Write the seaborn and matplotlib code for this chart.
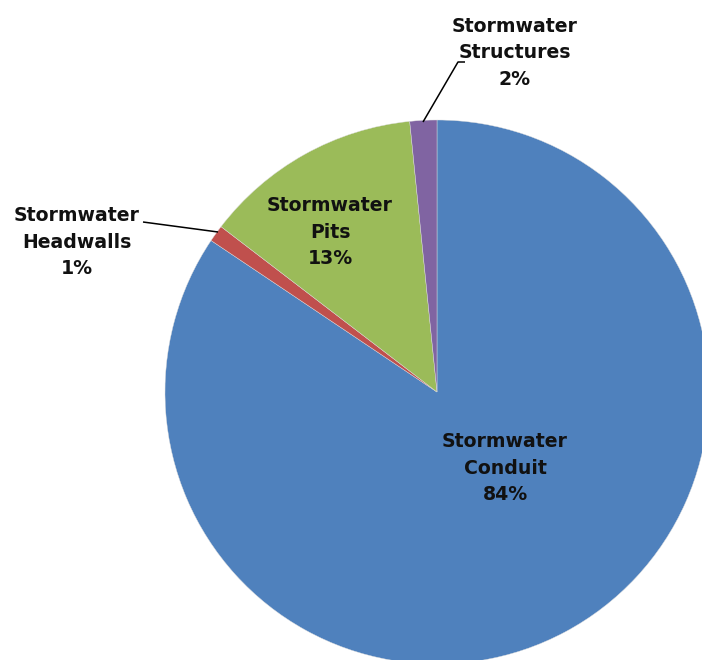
import matplotlib
matplotlib.use("Agg")
import matplotlib.pyplot as plt
import seaborn as sns

# data
categories = ["Stormwater\nConduit", "Stormwater\nHeadwalls", "Stormwater\nPits", "Stormwater\nStructures"]
shares = [84.4, 1.0, 13.0, 1.6]
colors = ["#4F81BD", "#C0504D", "#9BBB59", "#8064A2"]

# label layout in pixel coords (origin bottom-left), leader lines where needed
label_pos = [(505, 192), (77, 418), (330, 428), (515, 607)]
leaders = [None, [(143, 438), (218, 428)], None, [(465, 598), (458, 598), (423, 538)]]

sns.set_style("white")
plt.rcParams['font.family'] = ['DejaVu Sans']

fig = plt.figure(figsize=(7.02, 6.6), dpi=100)
ax = fig.add_axes([0, 0, 1, 1])

wedges, _ = ax.pie(shares, colors=colors, startangle=90, counterclock=False,
                   center=(437, 268), radius=272, frame=True,
                   wedgeprops=dict(linewidth=0.3, edgecolor="#dddddd"))
ax.set_xlim(0, 702)
ax.set_ylim(0, 660)
ax.set_aspect("equal")
ax.axis("off")

total = sum(shares)
for name, val, (x, y), ld in zip(categories, shares, label_pos, leaders):
    ax.text(x, y, f"{name}\n{val / total * 100:.0f}%", ha="center", va="center",
            fontsize=13.6, fontweight="bold", color="#111111", linespacing=1.5)
    if ld:
        xs, ys = zip(*ld)
        ax.plot(xs, ys, color="black", lw=1.1, solid_capstyle="butt")

fig.savefig("out.png", dpi=100, facecolor="white")
